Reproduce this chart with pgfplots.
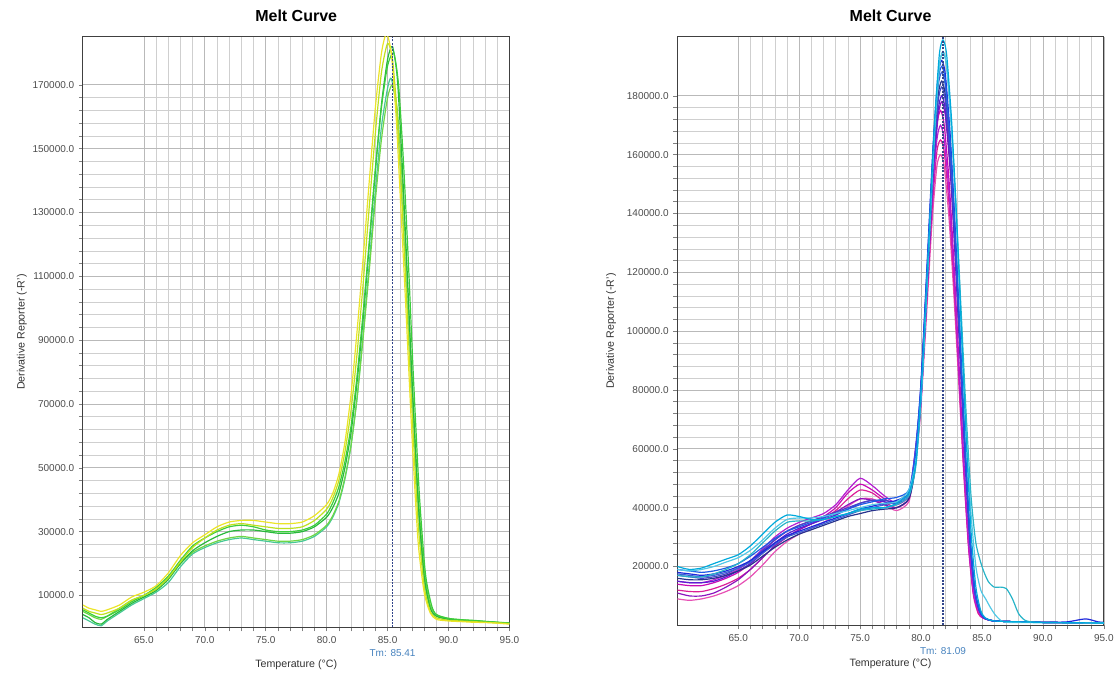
\documentclass[border=0pt]{standalone}
\usepackage{fontspec}
\setmainfont{Liberation Sans}
\usepackage{pgfplots}
\pgfplotsset{compat=1.18}
\definecolor{ya}{RGB}{235,228,40}
\definecolor{yb}{RGB}{190,225,30}
\definecolor{ga}{RGB}{40,185,60}
\definecolor{gb}{RGB}{110,215,70}
\definecolor{ma}{RGB}{70,200,150}
\definecolor{gc}{RGB}{60,205,60}
\definecolor{ca}{RGB}{0,170,220}
\definecolor{cb}{RGB}{80,200,230}
\definecolor{cc}{RGB}{30,40,220}
\definecolor{cd}{RGB}{40,50,140}
\definecolor{ce}{RGB}{30,90,230}
\definecolor{cf}{RGB}{90,30,210}
\definecolor{cg}{RGB}{140,20,190}
\definecolor{ch}{RGB}{200,10,180}
\definecolor{ci}{RGB}{220,30,150}
\definecolor{cj}{RGB}{230,80,180}
\definecolor{ck}{RGB}{70,70,200}
\definecolor{cl}{RGB}{180,30,210}
\definecolor{cm}{RGB}{40,180,200}
\definecolor{cn}{RGB}{60,100,210}
\definecolor{tmline}{RGB}{50,70,140}
\definecolor{tmtext}{RGB}{70,130,190}
\pgfplotsset{mc/.style={
  scale only axis, width=320.25pt, xmin=60, xmax=95, ymin=0,
  clip mode=individual,
  xtick={65,70,75,80,85,90,95},
  xticklabels={65.0,70.0,75.0,80.0,85.0,90.0,95.0},
  minor x tick num=4, minor y tick num=4,
  grid=both,
  major grid style={gray!55, line width=0.5pt},
  minor grid style={gray!38, line width=0.4pt},
  tick align=outside, tick pos=left,
  major tick length=3pt, minor tick length=3pt,
  every tick/.style={gray, line width=0.4pt},
  axis line style={black!75, line width=0.7pt},
  ticklabel style={font=\fontsize{7.5}{9}\selectfont, text=black!70},
  title={Melt Curve},
  title style={font=\fontsize{12}{14}\selectfont\bfseries, at={(0.5,1)}, anchor=center, yshift=10pt},
  label style={font=\fontsize{8}{10}\selectfont, text=black!80},
  xlabel={Temperature (°C)},
  ylabel={Derivative Reporter (-R')},
  every axis plot/.append style={line width=0.9pt, smooth, tension=0.4, mark=none},
}}
\begin{document}
\begin{tikzpicture}
\path (0,0) rectangle (838.5pt,506.25pt);
% ---------------- left chart ----------------
\begin{axis}[mc, at={(62.25pt,35.25pt)}, anchor=south west, height=443.25pt, ymax=185,
  ytick={10,30,50,70,90,110,130,150,170},
  yticklabels={10000.0,30000.0,50000.0,70000.0,90000.0,110000.0,130000.0,150000.0,170000.0},
  xlabel style={at={(axis description cs:0.5,-0.063)}, anchor=center},
  ylabel style={at={(axis description cs:-0.143,0.5)}, anchor=center}]
\addplot[color=ma] coordinates {(60,3)(60.5,2)(61,1)(61.5,0.5)(62,2)(63,4.5)(64,7)(65,9)(66,11)(67,14)(68,19)(69,23)(70,25)(71,26.5)(72,27.5)(73,28)(74,27.5)(75,27)(76,26.5)(77,26.5)(78,27)(79,28.5)(80,31.5)(80.5,34.5)(81,39)(81.5,46.5)(82,57)(82.5,72)(83,92)(83.5,114)(84,137)(84.5,157)(85,169)(85.3,172)(85.7,163)(86.1,140)(86.5,110)(87,73)(87.5,38)(88,15)(88.5,6)(89,3.5)(90,2.6)(91,2.2)(92,2)(93,1.7)(94,1.5)(95,1.2)};
\addplot[color=gb] coordinates {(60,5)(60.5,4)(61,3)(61.5,2.5)(62,3.5)(63,6)(64,8.5)(65,10)(66,12)(67,15.5)(68,20)(69,23.5)(70,25.5)(71,27)(72,28)(73,28.5)(74,28)(75,27.5)(76,27)(77,27)(78,27.5)(79,29)(80,32)(80.5,35)(81,39.5)(81.5,47)(82,57)(82.5,72)(83,91)(83.5,112)(84,134)(84.5,153)(85,166)(85.4,170)(85.8,162)(86.2,140)(86.6,110)(87,78)(87.5,42)(88,18)(88.5,7)(89,4)(90,2.8)(91,2.4)(92,2.1)(93,1.8)(94,1.6)(95,1.4)};
\addplot[color=ga] coordinates {(60,4)(60.5,3)(61,1.5)(61.5,1)(62,2.5)(63,5)(64,7.5)(65,9.5)(66,11.5)(67,15)(68,20)(69,24)(70,26.5)(71,28.5)(72,30)(73,30.5)(74,30.5)(75,30)(76,29.5)(77,29.5)(78,30)(79,31.5)(80,34.5)(80.5,37.5)(81,42)(81.5,50)(82,61)(82.5,77)(83,97)(83.5,120)(84,143)(84.5,164)(85,178)(85.4,182)(85.8,172)(86.2,145)(86.6,112)(87,78)(87.5,40)(88,16)(88.5,6)(89,3.5)(90,2.5)(91,2.2)(92,2)(93,1.8)(94,1.5)(95,1.3)};
\addplot[color=gc] coordinates {(60,5.5)(60.5,4.5)(61,3.5)(61.5,3)(62,3.5)(63,5.5)(64,8)(65,10)(66,12.5)(67,16)(68,21)(69,25.5)(70,28)(71,30)(72,31.5)(73,32)(74,31.5)(75,30.5)(76,30)(77,30)(78,30.5)(79,32)(80,35.5)(80.5,39)(81,44)(81.5,52)(82,63)(82.5,79)(83,99)(83.5,121)(84,144)(84.5,163)(85,176)(85.5,180)(85.9,170)(86.3,146)(86.7,115)(87.1,80)(87.6,42)(88.1,17)(88.6,7)(89,4)(90,2.8)(91,2.4)(92,2.2)(93,1.9)(94,1.6)(95,1.3)};
\addplot[color=yb] coordinates {(60,6)(60.5,5)(61,4.5)(61.5,4)(62,4.5)(63,6)(64,8.5)(65,10)(66,12)(67,15.5)(68,20.5)(69,25)(70,28)(71,30.5)(72,32)(73,32.5)(74,32)(75,31.5)(76,31)(77,31)(78,31.5)(79,33.5)(80,37)(80.5,40.5)(81,46)(81.5,55)(82,68)(82.5,86)(83,108)(83.5,132)(84,155)(84.5,174)(85,183)(85.4,178)(85.8,160)(86.2,132)(86.6,100)(87,68)(87.5,33)(88,13)(88.5,5)(89,3)(90,2.2)(91,2)(92,1.8)(93,1.6)(94,1.4)(95,1.2)};
\addplot[color=ya] coordinates {(60,7)(60.5,6)(61,5.5)(61.5,5)(62,5.5)(63,7)(64,9.5)(65,11)(66,13)(67,17)(68,22.5)(69,26.5)(70,29)(71,31.5)(72,33)(73,33.5)(74,33.5)(75,33)(76,32.5)(77,32.5)(78,33)(79,35)(80,38.5)(80.5,42)(81,48)(81.5,58)(82,73)(82.5,93)(83,116)(83.5,140)(84,163)(84.5,180)(84.9,186)(85.3,180)(85.7,160)(86,138)(86.5,100)(87,60)(87.5,27)(88,11)(88.5,4.5)(89,2.5)(90,2)(91,1.8)(92,1.6)(93,1.5)(94,1.3)(95,1)};
\addplot[color=tmline, line width=0.8pt, dash pattern=on 1.5pt off 1pt, sharp plot] coordinates {(85.41,0)(85.41,185)};
\node[font=\fontsize{7.5}{9}\selectfont, text=tmtext] at (axis cs:85.41,0) [yshift=-19.5pt] {Tm: 85.41};
\end{axis}
% ---------------- right chart ----------------
\begin{axis}[mc, at={(508.5pt,36.75pt)}, anchor=south west, height=441.75pt, ymax=200,
  ytick={20,40,60,80,100,120,140,160,180},
  yticklabels={20000.0,40000.0,60000.0,80000.0,100000.0,120000.0,140000.0,160000.0,180000.0},
  xlabel style={at={(axis description cs:0.5,-0.066)}, anchor=center},
  ylabel style={at={(axis description cs:-0.155,0.5)}, anchor=center}]
\addplot[color=cj] coordinates {(60,9)(61,8.5)(62,9)(63,10)(64,11.5)(65,13.5)(66,16.5)(67,20.5)(68,25)(69,28.5)(70,31)(71,33)(72,35)(73,37.5)(74,40.5)(75,43)(76,43)(77,41)(78,39)(79,42)(79.4,52)(79.9,69)(80.4,102)(80.9,137)(81.3,156)(81.6,160)(81.9,156)(82.3,138)(82.7,112)(83.1,82)(83.5,52)(83.9,26)(84.3,10)(84.7,4)(85.1,2.5)(86,1.5)(88,1.2)(90,1)(92,0.9)(95,0.8)};
\addplot[color=ci] coordinates {(60,12)(61,11.5)(62,11.5)(63,12.5)(64,14)(65,16)(66,19)(67,23)(68,27)(69,30)(70,32.5)(71,34.5)(72,36.5)(73,39)(74,43)(75,46)(76,45)(77,42)(78,40)(79,43)(79.4,54)(79.9,71)(80.4,106)(80.9,141)(81.3,161)(81.6,165)(81.9,161)(82.3,143)(82.7,116)(83.1,85)(83.5,53)(83.9,27)(84.3,11)(84.7,4)(85.1,2.5)(86,1.5)(88,1.2)(90,1)(92,0.9)(95,0.8)};
\addplot[color=cg] coordinates {(60,11)(61,10)(62,10)(63,11)(64,13)(65,15.5)(66,19)(67,23)(68,27)(69,30)(70,32.5)(71,34.5)(72,36.5)(73,38.5)(74,41)(75,43)(76,42.5)(77,41)(78,40)(79,43)(79.5,54)(80,77)(80.5,114)(81,152)(81.4,173)(81.7,178)(82,173)(82.4,154)(82.8,125)(83.2,91)(83.6,58)(84,29)(84.4,12)(84.8,5)(85.2,2.5)(86,1.5)(88,1.2)(90,1)(92,0.9)(95,0.8)};
\addplot[color=ch] coordinates {(60,14)(61,13.5)(62,13.5)(63,14.5)(64,16)(65,18)(66,21)(67,25)(68,29)(69,32)(70,34)(71,35.5)(72,37)(73,40)(74,45)(75,48)(76,46)(77,43)(78,41)(79,44)(79.4,55)(79.9,75)(80.4,112)(80.9,149)(81.3,170)(81.6,175)(81.9,170)(82.3,151)(82.7,123)(83.1,90)(83.5,57)(83.9,28)(84.3,11)(84.7,5)(85.1,2.5)(86,1.5)(88,1.2)(90,1)(92,0.9)(95,0.8)};
\addplot[color=cl] coordinates {(60,15)(61,14.5)(62,14.5)(63,15.5)(64,17)(65,19)(66,22)(67,26)(68,30)(69,33)(70,35)(71,36.5)(72,38)(73,41)(74,46)(75,50)(76,47.5)(77,44)(78,41.5)(79,44)(79.4,55)(79.9,73)(80.4,109)(80.9,145)(81.3,165)(81.6,170)(81.9,165)(82.3,147)(82.7,120)(83.1,87)(83.5,55)(83.9,28)(84.3,11)(84.7,5)(85.1,2.5)(86,1.5)(88,1.2)(90,1)(92,0.9)(95,0.8)};
\addplot[color=cf] coordinates {(60,15)(61,14.5)(62,14.5)(63,15)(64,16.5)(65,18.5)(66,21)(67,24.5)(68,28)(69,31)(70,33)(71,34.5)(72,36)(73,37.5)(74,39.5)(75,41.5)(76,42.5)(77,42)(78,41.5)(79,44)(79.5,55)(80,77)(80.5,115)(81,154)(81.4,175)(81.7,180)(82,175)(82.4,156)(82.8,127)(83.2,93)(83.6,58)(84,29)(84.4,12)(84.8,5)(85.2,2.5)(86,1.5)(88,1.2)(90,1)(92,0.9)(95,0.8)};
\addplot[color=cd] coordinates {(60,16)(61,15.5)(62,15.5)(63,16)(64,17)(65,18.5)(66,20.5)(67,23.5)(68,26.5)(69,29)(70,31)(71,32.5)(72,34)(73,35.5)(74,37)(75,38)(76,39)(77,39.5)(78,40)(79,43)(79.5,53)(80,80)(80.5,118)(81,158)(81.4,180)(81.7,185)(82,180)(82.4,160)(82.8,130)(83.2,95)(83.6,60)(84,30)(84.4,12)(84.8,5)(85.2,2.5)(86,1.5)(88,1.2)(90,1)(92,0.9)(95,0.8)};
\addplot[color=ck] coordinates {(60,17)(61,16.5)(62,16)(63,16.5)(64,17.5)(65,19.5)(66,22)(67,25.5)(68,29)(69,32)(70,34)(71,35.5)(72,37)(73,38.5)(74,40)(75,41.5)(76,42.5)(77,42.5)(78,42)(79,45)(79.5,56)(80,79)(80.5,117)(81,156)(81.4,178)(81.7,183)(82,178)(82.4,158)(82.8,129)(83.2,94)(83.6,59)(84,30)(84.4,12)(84.8,5)(85.2,2.5)(86,1.5)(88,1.2)(90,1)(92,0.9)(95,0.8)};
\addplot[color=cn] coordinates {(60,17.5)(61,17)(62,16.5)(63,17)(64,18)(65,19.5)(66,21.5)(67,24.5)(68,27.5)(69,30)(70,31.5)(71,33)(72,34.5)(73,36)(74,37.5)(75,39)(76,40)(77,41)(78,42)(79,44.5)(79.5,55)(80,81)(80.5,120)(81,161)(81.4,183)(81.7,188)(82,183)(82.4,163)(82.8,132)(83.2,97)(83.6,61)(84,30)(84.4,12)(84.8,5)(85.2,2.5)(86,1.5)(88,1.2)(90,1)(92,0.9)(95,0.8)};
\addplot[color=cc] coordinates {(60,18)(61,17.5)(62,17)(63,17.5)(64,18.5)(65,20)(66,22)(67,25)(68,28)(69,30.5)(70,32)(71,33.5)(72,35)(73,36.5)(74,38)(75,39.5)(76,40.5)(77,41.5)(78,42.5)(79,45)(79.5,56)(80,83)(80.5,123)(81,164)(81.4,187)(81.7,192)(82,187)(82.4,166)(82.8,135)(83.2,99)(83.6,62)(84,31)(84.4,12)(84.8,5)(85.2,2.5)(86,1.5)(88,1.2)(90,1)(92,1.2)(93.5,2.2)(94.5,1.2)(95,1)};
\addplot[color=ce] coordinates {(60,19)(61,18.5)(62,18)(63,18.5)(64,19.5)(65,21)(66,23.5)(67,26.5)(68,29.5)(69,32)(70,33.5)(71,35)(72,36.5)(73,38)(74,39.5)(75,41)(76,42)(77,43)(78,43.5)(79,46)(79.5,58)(80,82)(80.5,122)(81,162)(81.4,185)(81.7,190)(82,185)(82.4,164)(82.8,134)(83.2,98)(83.6,62)(84,31)(84.4,12)(84.8,5)(85.2,2.5)(86,1.5)(88,1.2)(90,1)(92,0.9)(95,0.8)};
\addplot[color=cm] coordinates {(60,17)(61,16.5)(62,16.5)(63,17.5)(64,19)(65,21)(66,24)(67,28)(68,32)(69,35)(70,35.5)(71,35.5)(72,36)(73,37)(74,38)(75,39)(76,39.5)(77,40)(78,41)(79,44)(79.6,55)(80.1,84)(80.6,125)(81.1,167)(81.5,190)(81.8,195)(82.1,190)(82.5,169)(82.9,140)(83.3,106)(83.7,72)(84.1,44)(84.5,28)(85,20)(85.5,15)(86,13)(86.5,13)(87,12.5)(87.5,9)(88,4)(88.5,1.8)(89,1.2)(90,1)(92,0.9)(95,0.8)};
\addplot[color=cb] coordinates {(60,19)(61,18.5)(62,19)(63,20)(64,21.5)(65,23)(66,25.5)(67,29)(68,33)(69,36)(70,36.5)(71,36.5)(72,37)(73,38)(74,39)(75,40)(76,41)(77,41.5)(78,42)(79,46)(79.6,57)(80.1,84)(80.6,125)(81.1,167)(81.5,190)(81.8,195)(82.1,190)(82.5,169)(82.9,137)(83.3,100)(83.7,65)(84.1,38)(84.5,20)(84.9,12)(85.3,9)(85.7,6)(86.1,3.5)(86.6,1.5)(87.2,1)(90,0.9)(95,0.8)};
\addplot[color=ca] coordinates {(60,20)(61,19)(62,19.5)(63,21)(64,22.5)(65,24)(66,27)(67,31)(68,35)(69,37.5)(70,37)(71,36)(72,36)(73,37)(74,38)(75,39.5)(76,40)(77,40)(78,41.5)(79,45)(79.6,56)(80.1,86)(80.6,127)(81.1,170)(81.5,194)(81.8,199)(82.1,194)(82.5,172)(82.9,140)(83.3,102)(83.7,64)(84.1,32)(84.5,13)(84.9,5)(85.3,2.5)(86,1.5)(88,1.2)(90,1)(92,0.9)(95,0.8)};
\addplot[color=tmline, line width=0.8pt, dash pattern=on 1.5pt off 1pt, sharp plot] coordinates {(81.8,0)(81.8,200)};
\node[font=\fontsize{7.5}{9}\selectfont, text=tmtext] at (axis cs:81.8,0) [yshift=-19.5pt] {Tm: 81.09};
\end{axis}
\end{tikzpicture}
\end{document}
